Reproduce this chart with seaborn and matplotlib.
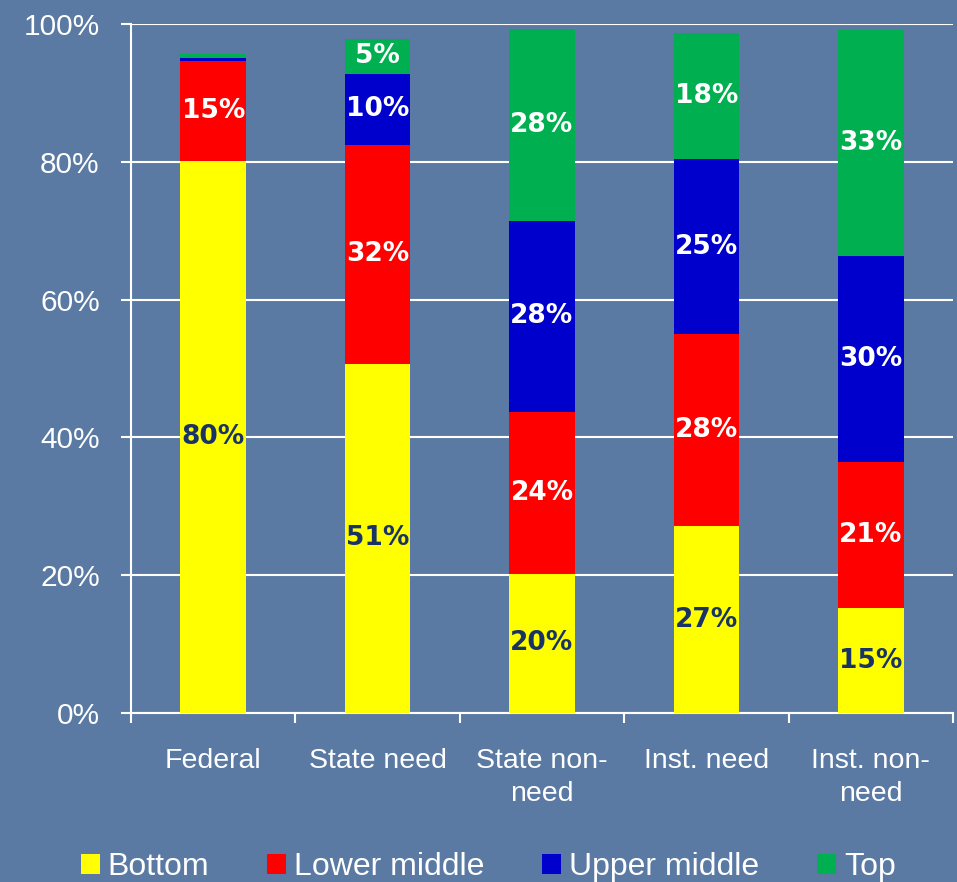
import matplotlib
matplotlib.use("Agg")
import matplotlib.pyplot as plt
from matplotlib.patches import Patch
import numpy as np
import pandas as pd
import seaborn as sns

categories = ["Federal", "State need", "State non-\nneed", "Inst. need", "Inst. non-\nneed"]
# segment heights (percent)
bottom = [80.1, 50.7, 20.2, 27.1, 15.2]
lower_middle = [14.5, 31.8, 23.5, 27.9, 21.3]
upper_middle = [0.5, 10.3, 27.7, 25.4, 29.9]
top = [0.6, 5.0, 27.9, 18.3, 32.8]
# labels printed on the bars (None = no label)
labels_bottom = ["80%", "51%", "20%", "27%", "15%"]
labels_lower = ["15%", "32%", "24%", "28%", "21%"]
labels_upper = [None, "10%", "28%", "25%", "30%"]
labels_top = [None, "5%", "28%", "18%", "33%"]

series_names = ["Bottom", "Lower middle", "Upper middle", "Top"]
colors = ["#ffff00", "#ff0000", "#0000cc", "#00b050"]
text_colors = ["#1a3366", "white", "white", "white"]
bg = "#5a7aa4"

sns.set_theme(style="white")
plt.rcParams["font.family"] = ["Liberation Sans", "DejaVu Sans"]

df = pd.DataFrame({"cat": categories, "Bottom": bottom, "Lower middle": lower_middle,
                   "Upper middle": upper_middle, "Top": top})
values = df[series_names].to_numpy()
cum = np.cumsum(values, axis=1)

fig = plt.figure(figsize=(9.57, 8.82), dpi=100, facecolor=bg)
ax = fig.add_axes([0.1369, 0.1916, 0.8589, 0.7812])
ax.set_facecolor(bg)

# draw cumulative totals from the top down so each layer covers the next
for i in range(3, -1, -1):
    sns.barplot(x=df["cat"], y=cum[:, i], color=colors[i], width=0.4,
                saturation=1, ax=ax, zorder=3, linewidth=0)

all_labels = [labels_bottom, labels_lower, labels_upper, labels_top]
for i in range(4):
    for j in range(len(categories)):
        lab = all_labels[i][j]
        if lab is None:
            continue
        ymid = cum[j, i] - values[j, i] / 2
        ax.text(j, ymid, lab, ha="center", va="center", fontsize=19,
                fontweight="bold", family="DejaVu Sans", color=text_colors[i], zorder=5)

ax.set_ylim(0, 100)
ax.set_xlim(-0.5, 4.5)
ax.set_yticks(range(0, 101, 20))
ax.set_yticklabels([f"{v}%" for v in range(0, 101, 20)], color="white", fontsize=21.5)
ax.grid(axis="y", color="white", linewidth=1.5, zorder=1)
ax.grid(axis="x", visible=False)
ax.tick_params(axis="y", left=True, length=7.5, width=1.5, color="white", pad=15)
ax.tick_params(axis="x", which="major", bottom=True, length=0, pad=25, labelsize=20.5)
ax.set_xticks(np.arange(-0.5, 5, 1), minor=True)
ax.tick_params(axis="x", which="minor", bottom=True, length=7, width=1.5, color="white")
for lbl in ax.get_xticklabels():
    lbl.set_color("white")
    lbl.set_linespacing(1.35)
ax.set_xlabel("")
ax.set_ylabel("")
for s in ["top", "right"]:
    ax.spines[s].set_visible(False)
for s in ["left", "bottom"]:
    ax.spines[s].set_color("white")
    ax.spines[s].set_linewidth(1.5)

handles = [Patch(facecolor=c, edgecolor="none") for c in colors]
leg = fig.legend(handles, series_names, loc="lower center", bbox_to_anchor=(0.51, -0.033),
                 ncol=4, frameon=False, fontsize=23, handlelength=0.6, handleheight=0.6,
                 handletextpad=0.25, columnspacing=1.8)
for t in leg.get_texts():
    t.set_color("white")

fig.savefig("out.png", dpi=100, facecolor=bg)
